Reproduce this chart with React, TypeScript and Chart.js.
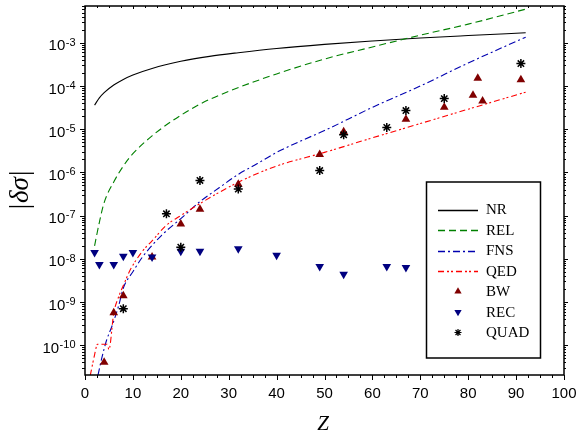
import React, { useEffect, useRef } from 'react';
import { Chart, registerables } from 'chart.js';
Chart.register(...registerables);

// ---- data ----
const nrZ = [2, 3, 4, 6, 8, 10, 14, 20, 26, 32, 40, 50, 60, 70, 80, 92];
const nrVal = [3.6e-5, 5.3e-5, 7.0e-5, 1.05e-4, 1.42e-4, 1.8e-4, 2.55e-4, 3.72e-4, 4.85e-4, 5.9e-4, 7.4e-4, 9.2e-4, 1.1e-3, 1.29e-3, 1.47e-3, 1.7e-3];

const relZ = [2, 3, 4, 6, 8, 10, 14, 18, 24, 30, 40, 50, 60, 70, 80, 92];
const relVal = [2.0e-8, 7e-8, 2.0e-7, 6e-7, 1.4e-6, 2.7e-6, 7e-6, 1.5e-5, 3.8e-5, 7.5e-5, 1.9e-4, 4.2e-4, 8e-4, 1.5e-3, 2.7e-3, 6.0e-3];

const fnsZ = [2.7, 3.5, 4.5, 5.6, 7, 8, 10, 12, 16, 20, 24, 28, 32, 36, 40, 45, 50, 60, 70, 80, 92];
const fnsVal = [2e-11, 5e-11, 1.3e-10, 2.7e-10, 8e-10, 2.1e-9, 5e-9, 1.1e-8, 3.5e-8, 8.5e-8, 2.1e-7, 4.4e-7, 9e-7, 1.6e-6, 2.9e-6, 5.3e-6, 9.3e-6, 3.2e-5, 1.0e-4, 3.4e-4, 1.35e-3];

const qedZ = [1.1, 2, 2.6, 4.6, 5.0, 6, 7, 8, 9.4, 12, 14, 17, 20, 24, 32, 40, 50, 60, 70, 80, 92];
const qedVal = [2e-11, 6e-11, 1.05e-10, 1.05e-10, 8e-11, 5.5e-10, 1.3e-9, 2.4e-9, 5.4e-9, 1.5e-8, 2.6e-8, 6e-8, 1.0e-7, 1.9e-7, 5.9e-7, 1.4e-6, 2.9e-6, 6.3e-6, 1.35e-5, 2.9e-5, 7.2e-5];

const bwZ = [4, 6, 8, 14, 20, 24, 32, 49, 54, 67, 75, 81, 82, 83, 91];
const bwVal = [4e-11, 5.6e-10, 1.4e-9, 1.1e-8, 6.4e-8, 1.4e-7, 5.3e-7, 2.6e-6, 8.7e-6, 1.7e-5, 3.2e-5, 6.1e-5, 1.5e-4, 4.5e-5, 1.4e-4];

const recZ = [2, 3, 6, 8, 10, 14, 20, 24, 32, 40, 49, 54, 63, 67];
const recVal = [1.4e-8, 7.4e-9, 7.4e-9, 1.15e-8, 1.4e-8, 1.1e-8, 1.5e-8, 1.5e-8, 1.7e-8, 1.2e-8, 6.6e-9, 4.4e-9, 6.6e-9, 6.3e-9];

const quadZ = [8, 17, 20, 24, 32, 49, 54, 63, 67, 75, 91];
const quadVal = [7e-10, 1.1e-7, 1.85e-8, 6.5e-7, 4.1e-7, 1.1e-6, 7.4e-6, 1.1e-5, 2.7e-5, 5.1e-5, 3.3e-4];

const xTickLabels = [0, 10, 20, 30, 40, 50, 60, 70, 80, 90, 100];
const yDecades = [-10, -9, -8, -7, -6, -5, -4, -3];

const legendItems = ['NR', 'REL', 'FNS', 'QED', 'BW', 'REC', 'QUAD'];

// ---- styles ----
const COL_NR = '#000000';
const COL_REL = '#008000';
const COL_FNS = '#0000b0';
const COL_QED = '#ff0000';
const COL_BW = '#800000';
const COL_REC = '#000080';
const COL_QUAD = '#000000';
const DASH_REL = [7, 4];
const DASH_FNS = [7, 3, 2, 3];
const DASH_QED = [6, 3, 2, 2, 2, 3];

const Y_MIN = 2.04e-11;
const Y_MAX = 7.1e-3;

const pts = (zs: number[], vs: number[]) => zs.map((z, i) => ({ x: z, y: vs[i] }));

function drawTri(ctx: CanvasRenderingContext2D, x: number, y: number, r: number, down: boolean, color: string) {
  ctx.save();
  ctx.fillStyle = color;
  ctx.beginPath();
  const s = down ? -1 : 1;
  ctx.moveTo(x, y - s * r);
  ctx.lineTo(x + r * 0.866, y + s * r * 0.5);
  ctx.lineTo(x - r * 0.866, y + s * r * 0.5);
  ctx.closePath();
  ctx.fill();
  ctx.restore();
}

function drawStar(ctx: CanvasRenderingContext2D, x: number, y: number, r: number, color: string) {
  ctx.save();
  ctx.strokeStyle = color;
  ctx.lineWidth = 1.2;
  ctx.beginPath();
  for (let k = 0; k < 4; k++) {
    const a = (k * Math.PI) / 4;
    ctx.moveTo(x + Math.cos(a) * r, y + Math.sin(a) * r);
    ctx.lineTo(x - Math.cos(a) * r, y - Math.sin(a) * r);
  }
  ctx.stroke();
  ctx.restore();
}

const framePlugin = {
  id: 'frameAxes',
  afterDraw(chart: any) {
    const ctx: CanvasRenderingContext2D = chart.ctx;
    const { left, right, top, bottom } = chart.chartArea;
    const xs = chart.scales.x;
    const ys = chart.scales.y;
    ctx.save();
    ctx.strokeStyle = '#000';
    ctx.lineWidth = 1.5;
    ctx.strokeRect(left, top, right - left, bottom - top);

    // x ticks
    ctx.lineWidth = 1;
    ctx.beginPath();
    for (let v = 0; v <= 100; v += 2.5) {
      const px = Math.round(xs.getPixelForValue(v)) + 0.5;
      const major = v % 10 === 0;
      ctx.moveTo(px, bottom);
      ctx.lineTo(px, bottom + (major ? 5 : 3));
      ctx.moveTo(px, top);
      ctx.lineTo(px, top + (major ? 3 : 2));
    }
    // y ticks
    for (let d = -11; d <= -3; d++) {
      for (let m = 1; m <= 9; m++) {
        const v = m * Math.pow(10, d);
        if (v < Y_MIN || v > Y_MAX) continue;
        const py = Math.round(ys.getPixelForValue(v)) + 0.5;
        const major = m === 1;
        ctx.moveTo(left, py);
        ctx.lineTo(left - (major ? 5 : 3), py);
        ctx.moveTo(right, py);
        ctx.lineTo(right + (major ? 4 : 2), py);
      }
    }
    ctx.stroke();

    // x tick labels
    ctx.fillStyle = '#000';
    ctx.font = '15px "Liberation Sans", Arial, sans-serif';
    ctx.textAlign = 'center';
    ctx.textBaseline = 'alphabetic';
    xTickLabels.forEach((v) => {
      ctx.fillText(String(v), xs.getPixelForValue(v), 397.5);
    });

    // y tick labels with superscript
    yDecades.forEach((d) => {
      const py = ys.getPixelForValue(Math.pow(10, d));
      const exp = String(d);
      ctx.font = '11px "Liberation Sans", Arial, sans-serif';
      const ew = ctx.measureText(exp).width;
      ctx.font = '15px "Liberation Sans", Arial, sans-serif';
      const bw = ctx.measureText('10').width;
      const xr = 75.5;
      ctx.textAlign = 'left';
      ctx.fillText('10', xr - ew - bw - 0.5, py + 7.6);
      ctx.font = '11px "Liberation Sans", Arial, sans-serif';
      ctx.fillText(exp, xr - ew, py + 2.8);
    });

    // axis titles
    ctx.save();
    ctx.translate(21, 190);
    ctx.rotate(-Math.PI / 2);
    const up = '27px "Liberation Serif", "Times New Roman", serif';
    const it = 'italic 27px "Liberation Serif", "Times New Roman", serif';
    ctx.font = up;
    const w1 = ctx.measureText('|').width;
    ctx.font = it;
    const w2 = ctx.measureText('δσ').width;
    const total = w1 * 2 + w2 + 2;
    let cx = -total / 2;
    ctx.textAlign = 'left';
    ctx.textBaseline = 'middle';
    ctx.font = up;
    ctx.fillText('|', cx, 0);
    cx += w1 + 1;
    ctx.font = it;
    ctx.fillText('δσ', cx, 0);
    cx += w2 + 1;
    ctx.font = up;
    ctx.fillText('|', cx, 0);
    ctx.restore();

    ctx.font = 'italic 21px "Liberation Serif", "Times New Roman", serif';
    ctx.textAlign = 'center';
    ctx.textBaseline = 'alphabetic';
    ctx.fillText('Z', 323, 430);

    // legend
    ctx.lineWidth = 1.5;
    ctx.strokeStyle = '#000';
    ctx.strokeRect(426.5, 182, 114, 176);
    const lx0 = 438, lx1 = 478, mx = 458, tx = 486;
    const y0 = 209.5, step = 20.5;
    const lineColors = [COL_NR, COL_REL, COL_FNS, COL_QED];
    const lineDashes = [[], DASH_REL, DASH_FNS, DASH_QED];
    ctx.font = '15px "Liberation Serif", "Times New Roman", serif';
    ctx.textAlign = 'left';
    ctx.textBaseline = 'middle';
    legendItems.forEach((name, i) => {
      const y = y0 + i * step;
      if (i < 4) {
        ctx.save();
        ctx.strokeStyle = lineColors[i];
        ctx.setLineDash(lineDashes[i]);
        ctx.lineWidth = 1.3;
        ctx.beginPath();
        ctx.moveTo(lx0, Math.round(y) + 0.5);
        ctx.lineTo(lx1, Math.round(y) + 0.5);
        ctx.stroke();
        ctx.restore();
      } else if (i === 4) {
        drawTri(ctx, mx, y, 4.2, false, COL_BW);
      } else if (i === 5) {
        drawTri(ctx, mx, y, 4.2, true, COL_REC);
      } else {
        drawStar(ctx, mx, y, 3.5, COL_QUAD);
      }
      ctx.fillStyle = '#000';
      ctx.fillText(name, tx, y + 1);
    });
    ctx.restore();
  },
};

export default function App() {
  const ref = useRef<HTMLCanvasElement | null>(null);
  useEffect(() => {
    document.body.style.margin = '0';
    const canvas = ref.current!;
    const lineDs = (label: string, zs: number[], vs: number[], color: string, dash: number[]) => ({
      label,
      data: pts(zs, vs),
      showLine: true,
      borderColor: color,
      borderWidth: 1.1,
      borderDash: dash,
      pointRadius: 0,
      fill: false,
      cubicInterpolationMode: 'monotone',
    });
    const markDs = (label: string, zs: number[], vs: number[], color: string, style: string, rot: number, r: number) => ({
      label,
      data: pts(zs, vs),
      showLine: false,
      pointStyle: style,
      rotation: rot,
      pointRadius: r,
      backgroundColor: color,
      borderColor: color,
      borderWidth: style === 'star' ? 1.5 : 0,
    });
    const chart = new Chart(canvas, {
      type: 'scatter',
      data: {
        datasets: [
          markDs('QUAD', quadZ, quadVal, COL_QUAD, 'star', 0, 4.5),
          markDs('REC', recZ, recVal, COL_REC, 'triangle', 180, 5),
          markDs('BW', bwZ, bwVal, COL_BW, 'triangle', 0, 5),
          lineDs('QED', qedZ, qedVal, COL_QED, DASH_QED),
          lineDs('FNS', fnsZ, fnsVal, COL_FNS, DASH_FNS),
          lineDs('REL', relZ, relVal, COL_REL, DASH_REL),
          lineDs('NR', nrZ, nrVal, COL_NR, []),
        ] as any,
      },
      options: {
        animation: false,
        responsive: false,
        devicePixelRatio: 1,
        layout: { padding: { left: 85, right: 14, top: 5, bottom: 59 } },
        plugins: { legend: { display: false }, tooltip: { enabled: false } },
        scales: {
          x: { type: 'linear', min: 0, max: 100, display: false },
          y: { type: 'logarithmic', min: Y_MIN, max: Y_MAX, display: false },
        },
      } as any,
      plugins: [framePlugin],
    });
    return () => chart.destroy();
  }, []);
  return (
    <div style={{ width: 578, height: 434, background: '#fff' }}>
      <canvas ref={ref} width={578} height={434} style={{ display: 'block', width: 578, height: 434 }} />
    </div>
  );
}
